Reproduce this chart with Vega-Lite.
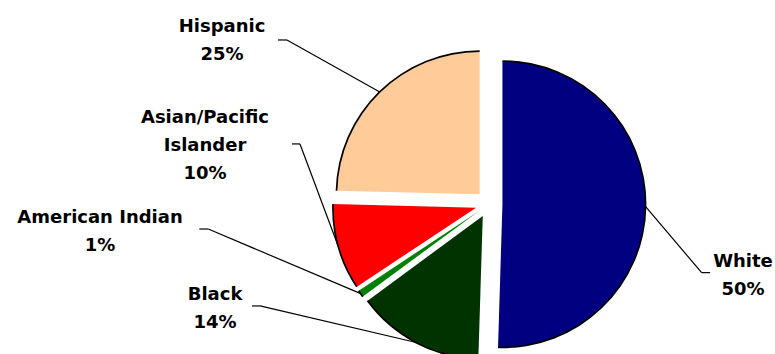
{
  "$schema": "https://vega.github.io/schema/vega-lite/v6.json",
  "width": 775,
  "height": 354,
  "autosize": {"type": "none"},
  "padding": 0,
  "config": {"view": {"stroke": null}},
  "data": {"values": [
    {"group": "White", "share": 50.49},
    {"group": "Black", "share": 14.4},
    {"group": "American Indian", "share": 0.8},
    {"group": "Asian/Pacific Islander", "share": 9.71},
    {"group": "Hispanic", "share": 24.6}
  ]},
  "transform": [
    {"window": [{"op": "sum", "field": "share", "as": "end"}], "frame": [null, 0]},
    {"calculate": "datum.end - datum.share", "as": "start"},
    {"calculate": "(datum.start + datum.end) / 100 * PI", "as": "mid"},
    {"calculate": "0.094 * sin(datum.mid)", "as": "ex"},
    {"calculate": "0.094 * cos(datum.mid)", "as": "ey"},
    {"calculate": "datum.ex + sin(datum.mid)", "as": "ax"},
    {"calculate": "datum.ey + cos(datum.mid)", "as": "ay"},
    {"calculate": "datum.group === 'White' ? 1.776 : datum.group === 'Black' ? -1.916 : datum.group === 'American Indian' ? -2.72 : datum.group === 'Hispanic' ? -1.867 : -1.986", "as": "lx"},
    {"calculate": "datum.group === 'White' ? -0.341 : datum.group === 'Black' ? -0.572 : datum.group === 'American Indian' ? -0.034 : datum.group === 'Hispanic' ? 1.302 : 0.666", "as": "ly"},
    {"calculate": "datum.group === 'White' ? 1.487 : datum.group === 'Black' ? -1.601 : datum.group === 'American Indian' ? -1.963 : datum.group === 'Hispanic' ? -1.413 : -1.322", "as": "tx"},
    {"calculate": "datum.group === 'White' ? 1.546 : datum.group === 'Black' ? -1.657 : datum.group === 'American Indian' ? -2.026 : datum.group === 'Hispanic' ? -1.476 : -1.378", "as": "tx2"},
    {"calculate": "datum.group === 'White' ? -0.480 : datum.group === 'Black' ? -0.713 : datum.group === 'American Indian' ? -0.175 : datum.group === 'Hispanic' ? 1.147 : 0.420", "as": "ty"},
    {"calculate": "(datum.group === 'Asian/Pacific Islander' ? 'Asian/Pacific|Islander' : datum.group) + '|' + format(datum.share / 100, '.0%')", "as": "label"}
  ],
  "layer": [
    {
      "mark": {"type": "arc", "outerRadius": 143, "innerRadius": 0},
      "encoding": {
        "x": {"field": "ex", "type": "quantitative", "scale": {"domain": [-3.4196, 2.0], "nice": false, "zero": false}, "axis": null},
        "y": {"field": "ey", "type": "quantitative", "scale": {"domain": [-1.049, 1.4266], "nice": false, "zero": false}, "axis": null},
        "theta": {"field": "start", "type": "quantitative", "scale": {"domain": [0, 100], "range": [0, 6.283185307]}},
        "theta2": {"field": "end"},
        "color": {
          "field": "group", "type": "nominal", "legend": null,
          "scale": {
            "domain": ["White", "Black", "American Indian", "Asian/Pacific Islander", "Hispanic"],
            "range": ["#000080", "#003300", "#008000", "#FF0000", "#FFCC99"]
          }
        }
      }
    },
    {
      "mark": {"type": "arc", "outerRadius": 144, "innerRadius": 142.3, "color": "#000000"},
      "encoding": {
        "x": {"field": "ex", "type": "quantitative"},
        "y": {"field": "ey", "type": "quantitative"},
        "theta": {"field": "start", "type": "quantitative", "scale": {"domain": [0, 100], "range": [0, 6.283185307]}},
        "theta2": {"field": "end"}
      }
    },
    {
      "mark": {"type": "rule", "color": "#000000", "strokeWidth": 1.2},
      "encoding": {
        "x": {"field": "ax", "type": "quantitative"},
        "y": {"field": "ay", "type": "quantitative"},
        "x2": {"field": "tx"},
        "y2": {"field": "ty"}
      }
    },
    {
      "mark": {"type": "rule", "color": "#000000", "strokeWidth": 1.2},
      "encoding": {
        "x": {"field": "tx", "type": "quantitative"},
        "x2": {"field": "tx2"},
        "y": {"field": "ty", "type": "quantitative"}
      }
    },
    {
      "mark": {"type": "text", "align": "center", "baseline": "top", "font": "DejaVu Sans", "fontSize": 18, "fontWeight": "bold", "lineHeight": 28, "lineBreak": "|", "color": "#000000"},
      "encoding": {
        "x": {"field": "lx", "type": "quantitative"},
        "y": {"field": "ly", "type": "quantitative"},
        "text": {"field": "label", "type": "nominal"}
      }
    }
  ]
}
